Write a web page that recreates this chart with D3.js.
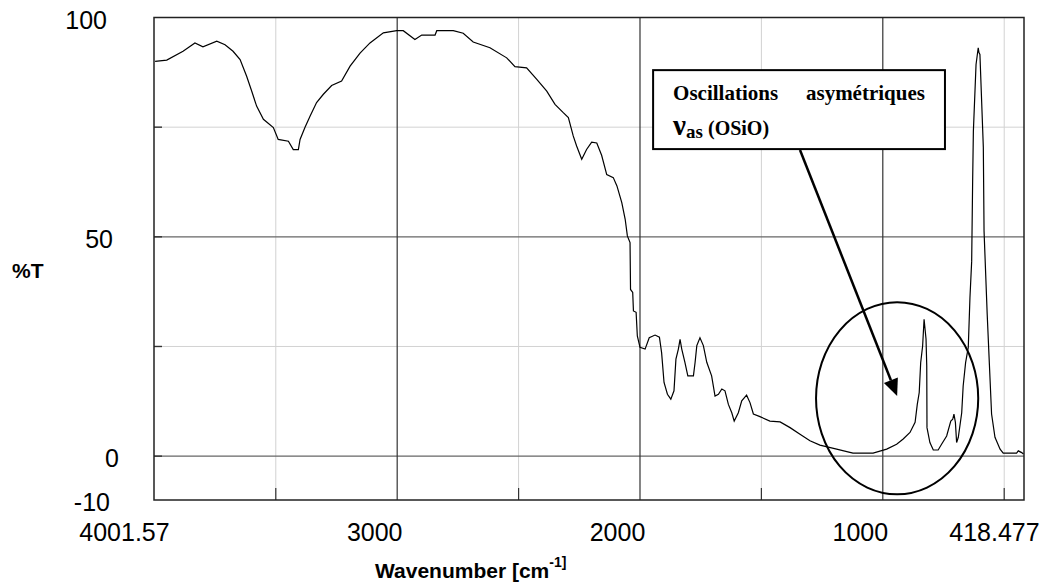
<!DOCTYPE html>
<html><head><meta charset="utf-8">
<script src="https://cdn.jsdelivr.net/npm/d3@7"></script>
<style>body{margin:0;background:#fff}svg{display:block}</style>
</head><body>
<svg id="chart" width="1046" height="586"></svg>
<script>
// ---- data ----
const wavenumber = [3997,3949,3882,3833,3800,3743,3709,3676,3647,3620,3599,3579,3551,3510,3490,3448,3428,3407,3400,3380,3359,3332,3304,3270,3229,3194,3153,3112,3057,3002,2975,2927,2899,2844,2837,2769,2728,2687,2618,2549,2515,2467,2425,2384,2350,2316,2295,2275,2261,2240,2220,2199,2178,2158,2137,2110,2095,2075,2061,2052,2041,2039,2030,2027,2016,2011,2000,1979,1962,1938,1920,1911,1901,1887,1873,1860,1852,1842,1835,1828,1815,1803,1780,1773,1766,1753,1739,1725,1705,1691,1677,1663,1650,1636,1622,1612,1595,1581,1561,1547,1533,1506,1465,1423,1382,1341,1300,1259,1190,1123,1040,984,943,916,888,867,858,850,844,836,830,822,819,818,806,792,772,758,737,720,712,707,701,696,689,675,669,659,648,641,634,630,627,616,607,604,600,586,583,570,561,552,538,517,504,449,442,428,421];
const transmittance = [90.0,90.3,92.3,94.2,93.3,94.6,93.8,92.3,90.4,86.6,83.2,79.8,76.8,74.9,72.2,71.8,69.9,69.9,72.2,74.9,77.5,80.6,82.5,84.5,85.5,88.9,91.9,94.2,96.5,97.0,97.0,95.0,96.0,96.0,97.0,97.0,96.4,94.4,93.1,90.8,88.8,88.5,85.9,83.2,80.2,78.3,77.2,73.0,70.7,67.7,69.9,71.6,71.4,68.6,64.2,63.5,61.6,57.8,54.0,50.2,48.7,38.0,37.3,33.1,32.8,27.4,24.8,24.4,27.0,27.6,27.1,23.6,16.8,14.1,13.0,14.9,22.1,24.4,26.6,24.4,21.4,18.3,18.3,21.4,25.2,27.0,25.2,21.4,18.3,13.7,14.1,15.3,14.9,11.8,9.9,8.0,9.9,12.6,13.9,12.2,9.6,9.0,8.0,7.8,6.5,5.0,3.5,2.5,1.6,0.7,0.7,1.6,2.7,3.9,5.4,7.7,11.8,14.5,21.3,25.1,31.2,26.7,20.6,6.5,3.1,1.4,1.4,2.7,4.6,8.0,8.4,9.6,7.7,3.1,4.3,9.9,16.0,21.3,24.8,36.2,44.4,62.6,74.0,89.3,93.1,92.0,91.6,70.4,51.3,32.3,20.9,9.6,4.3,1.6,0.7,0.7,1.2,0.8,0.5];

const xDomain = [4001.57, 418.477];
const yDomain = [-10, 100];
const xTickValues = [4001.57, 3000, 2000, 1000, 418.477];
const xTickLabels = ["4001.57", "3000", "2000", "1000", "418.477"];
const xMajorGrid = [3000, 2000, 1000];
const xMinorGrid = [3500, 2500, 1500, 500];
const yTickValues = [100, 50, 0, -10];
const yTickLabels = ["100", "50", "0", "-10"];
const yMajorGrid = [50, 0];
const yMinorGrid = [75, 25];
const yLabel = "%T";
const xLabel = "Wavenumber [cm";
const xLabelSup = "-1]";
const noteWords = ["Oscillations", "asymétriques"];
const noteNu = "ν", noteSub = "as", noteRest = " (OSiO)";
// annotation anchors in data units
const noteBox = {wn0: 1946, wn1: 744, t0: 88.0, t1: 70.0};
const arrowFrom = {wn: 1341, t: 69.8};
const arrowTo = {wn: 941, t: 13.7};
const ellipseC = {wn: 941, t: 13.2, rwn: 334, rt: 21.9};

// ---- layout ----
const L = 154, R = 1024, T = 17.5, B = 500;
const svg = d3.select("#chart");
const x = d3.scaleLinear().domain(xDomain).range([L, R]);
const y = d3.scaleLinear().domain(yDomain).range([B, T]);
const AX = "'Liberation Sans', Arial, sans-serif";
const SERIF = "'Liberation Serif', 'Times New Roman', serif";

// grid
const g = svg.append("g");
g.selectAll(".ymin").data(yMinorGrid).join("line")
  .attr("x1", L).attr("x2", R).attr("y1", d => y(d)).attr("y2", d => y(d))
  .attr("stroke", "#d2d2d2").attr("stroke-width", 1);
g.selectAll(".xmin").data(xMinorGrid).join("line")
  .attr("y1", T).attr("y2", B).attr("x1", d => x(d)).attr("x2", d => x(d))
  .attr("stroke", "#d2d2d2").attr("stroke-width", 1);
g.selectAll(".ymaj").data(yMajorGrid).join("line")
  .attr("x1", L).attr("x2", R).attr("y1", d => y(d)).attr("y2", d => y(d))
  .attr("stroke", "#666").attr("stroke-width", 1.2);
g.selectAll(".xmaj").data(xMajorGrid).join("line")
  .attr("y1", T).attr("y2", B).attr("x1", d => x(d)).attr("x2", d => x(d))
  .attr("stroke", "#333").attr("stroke-width", 1.2);

// inner tick marks
g.selectAll(".xt").data(xMinorGrid).join("line")
  .attr("x1", d => x(d)).attr("x2", d => x(d)).attr("y1", B).attr("y2", B - 12)
  .attr("stroke", "#333").attr("stroke-width", 1.2);
g.selectAll(".yt").data(yMinorGrid.concat(yMajorGrid)).join("line")
  .attr("x1", L).attr("x2", L + 8).attr("y1", d => y(d)).attr("y2", d => y(d))
  .attr("stroke", "#333").attr("stroke-width", 1.4);

// frame
svg.append("rect").attr("x", L).attr("y", T).attr("width", R - L).attr("height", B - T)
  .attr("fill", "none").attr("stroke", "#222").attr("stroke-width", 1.5);

// axes labels via d3 axes
const xAxis = svg.append("g").attr("transform", `translate(0,${B})`)
  .call(d3.axisBottom(x).tickValues(xTickValues).tickSize(0).tickPadding(0)
    .tickFormat((d, i) => xTickLabels[i]));
xAxis.select(".domain").remove();
xAxis.selectAll("text").attr("font-family", AX).attr("font-size", 25).attr("fill", "#000")
  .attr("y", 41).attr("dy", 0)
  .attr("dx", (d, i) => (i === 0 || i === xTickValues.length - 1) ? -30 : -23);

const yOff = [-47, -41, -35, -44];
const yAxis = svg.append("g").attr("transform", `translate(${L},0)`)
  .call(d3.axisLeft(y).tickValues(yTickValues).tickSize(0).tickPadding(0)
    .tickFormat((d, i) => yTickLabels[i]));
yAxis.select(".domain").remove();
yAxis.selectAll("text").attr("font-family", AX).attr("font-size", 25).attr("fill", "#000")
  .attr("x", (d, i) => yOff[i]).attr("dy", "0.42em");

svg.append("text").attr("x", 12).attr("y", 278).text(yLabel)
  .attr("font-family", AX).attr("font-size", 21).attr("font-weight", "bold");
const xl = svg.append("text").attr("x", 375).attr("y", 578)
  .attr("font-family", AX).attr("font-size", 21).attr("font-weight", "bold");
xl.append("tspan").text(xLabel);
xl.append("tspan").text(xLabelSup).attr("font-size", 14).attr("dy", -11);

// ellipse annotation
const ecx = x(ellipseC.wn), ecy = y(ellipseC.t);
svg.append("ellipse").attr("cx", ecx).attr("cy", ecy)
  .attr("rx", Math.abs(x(ellipseC.wn + ellipseC.rwn) - ecx))
  .attr("ry", Math.abs(y(ellipseC.t + ellipseC.rt) - ecy))
  .attr("fill", "none").attr("stroke", "#000").attr("stroke-width", 2);

// spectrum line
const pts = wavenumber.map((w, i) => [w, transmittance[i]]);
svg.append("path").datum(pts)
  .attr("d", d3.line().x(d => x(d[0])).y(d => y(d[1])))
  .attr("fill", "none").attr("stroke", "#000").attr("stroke-width", 1.2);

// arrow
const ax0 = x(arrowFrom.wn), ay0 = y(arrowFrom.t), ax1 = x(arrowTo.wn), ay1 = y(arrowTo.t);
const ang = Math.atan2(ay1 - ay0, ax1 - ax0), hl = 17, hw = 7.5;
const bx = ax1 - hl * Math.cos(ang), by = ay1 - hl * Math.sin(ang);
svg.append("line").attr("x1", ax0).attr("y1", ay0).attr("x2", bx).attr("y2", by)
  .attr("stroke", "#000").attr("stroke-width", 2.5);
svg.append("path").attr("d", `M${ax1},${ay1}L${bx + hw * Math.sin(ang)},${by - hw * Math.cos(ang)}L${bx - hw * Math.sin(ang)},${by + hw * Math.cos(ang)}Z`)
  .attr("fill", "#000");

// note box
const bx0 = x(noteBox.wn0), bx1 = x(noteBox.wn1), by0 = y(noteBox.t0), by1 = y(noteBox.t1);
svg.append("rect").attr("x", bx0).attr("y", by0).attr("width", bx1 - bx0).attr("height", by1 - by0)
  .attr("fill", "#fff").attr("stroke", "#000").attr("stroke-width", 2);
svg.append("text").attr("x", bx0 + 20).attr("y", by0 + 30).text(noteWords[0])
  .attr("font-family", SERIF).attr("font-size", 21).attr("font-weight", "bold");
svg.append("text").attr("x", bx1 - 20).attr("y", by0 + 30).attr("text-anchor", "end").text(noteWords[1])
  .attr("font-family", SERIF).attr("font-size", 21).attr("font-weight", "bold");
const n2 = svg.append("text").attr("x", bx0 + 20).attr("y", by0 + 65)
  .attr("font-family", SERIF).attr("font-weight", "bold");
n2.append("tspan").text(noteNu).attr("font-size", 29);
n2.append("tspan").text(noteSub).attr("font-size", 19).attr("dy", 3);
n2.append("tspan").text(noteRest).attr("font-size", 20).attr("dy", -3);
</script>
</body></html>
